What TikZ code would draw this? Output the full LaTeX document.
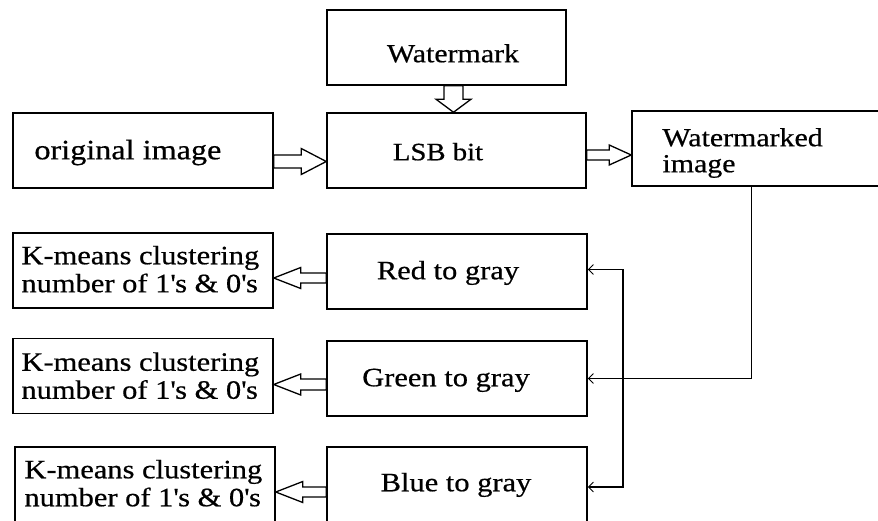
\documentclass[tikz,border=0pt]{standalone}
\usepackage{fontspec}
\setmainfont[FakeStretch=1.15,FakeBold=0.6]{Liberation Serif}
\usetikzlibrary{calc,arrows.meta}

% Hollow block arrow: #1 tail, #2 tip, #3 shaft half-width, #4 head half-width, #5 head length
\newcommand{\blockarrow}[5]{%
  \path ($(#2)!#5pt!(#1)$) coordinate (ba-base);
  \draw[blk] ($(#1)!#3pt!90:(#2)$) -- ($(ba-base)!#3pt!90:(#2)$)
    -- ($(ba-base)!#4pt!90:(#2)$) -- (#2)
    -- ($(ba-base)!#4pt!-90:(#2)$) -- ($(ba-base)!#3pt!-90:(#2)$)
    -- ($(#1)!#3pt!-90:(#2)$) -- cycle;}

\newcommand{\kmtext}{K-means clustering\\number of 1\textquotesingle s \& 0\textquotesingle s}

\tikzset{
  box/.style={draw, line width=1.5pt, inner sep=0pt, minimum height=75pt},
  txt/.style={inner sep=0pt, font=\fontsize{26.5}{28}\selectfont},
  blk/.style={draw, line width=1.3pt, fill=white, line join=miter},
  conn/.style={draw, line width=1.5pt,
    arrows={-Straight Barb[length=5pt,width=10pt,line width=0.9pt]}},
}

\begin{document}
\begin{tikzpicture}[x=1pt, y=-1pt]
\useasboundingbox (0,0) rectangle (878,521);

% boxes
\node[box, minimum width=239pt] (wm)  at (446.5,47.5)  {};
\node[box, minimum width=259pt] (lsb) at (456.5,150.5) {};
\node[box, minimum width=260pt] (orig) at (143,150.5) {};
\node[box, minimum width=268pt] (wmi) at (766,148.5) {};
\node[box, minimum width=260pt] (red)   at (457,271.5) {};
\node[box, minimum width=260pt] (green) at (457,378.5) {};
\node[box, minimum width=260pt] (blue)  at (457,484.5) {};
\node[box, minimum width=260pt] (km1) at (143,270.5) {};
\node[box, minimum width=260pt] (km2) at (143,376) {};
\node[box, minimum width=260pt] (km3) at (145,484.5) {};

% labels (multi-line labels are anchored at their last baseline)
\node[txt, font=\fontsize{26}{28}\selectfont, anchor=base] (wm-t) at ($(wm.north)+(6.5,53)$) {Watermark};
\node[txt, font=\fontsize{25}{28}\selectfont, anchor=base] (lsb-t) at ($(lsb.north)+(-18.5,48)$) {LSB bit};
\node[txt, font=\fontsize{28}{32}\selectfont, anchor=base west] (orig-t) at ($(orig.north west)+(22,47)$) {original image};
\node[txt, font=\fontsize{26}{26}\selectfont, anchor=base west, align=left] (wmi-t) at ($(wmi.north west)+(31,62)$) {Watermarked\\image};
\node[txt, anchor=base] (red-t) at ($(red.north)+(-9,46)$) {Red to gray};
\node[txt, anchor=base] (green-t) at ($(green.north)+(-11,46)$) {Green to gray};
\node[txt, anchor=base] (blue-t) at ($(blue.north)+(-1,45)$) {Blue to gray};
\node[txt, anchor=base west, align=left] (km1-t) at ($(km1.north west)+(9,60)$) {\kmtext};
\node[txt, anchor=base west, align=left] (km2-t) at ($(km2.north west)+(9,61)$) {\kmtext};
\node[txt, anchor=base west, align=left] (km3-t) at ($(km3.north west)+(10,60)$) {\kmtext};

% hollow block arrows
\coordinate (t1) at ($(wm.south)+(7,0)$);
\coordinate (h1) at (t1 |- lsb.north);
\blockarrow{t1}{h1}{9.5}{17.5}{13}
\coordinate (t2) at ($(orig.east)+(0,11)$);
\coordinate (h2) at (lsb.west |- t2);
\blockarrow{t2}{h2}{6.5}{13}{25}
\coordinate (t3) at ($(lsb.east)+(0,4.5)$);
\coordinate (h3) at (wmi.west |- t3);
\blockarrow{t3}{h3}{5}{10}{22}
\coordinate (t4) at ($(red.west)+(0,6.5)$);
\coordinate (h4) at (km1.east |- t4);
\blockarrow{t4}{h4}{5}{10.5}{27}
\coordinate (t5) at ($(green.west)+(0,6)$);
\coordinate (h5) at (km2.east |- t5);
\blockarrow{t5}{h5}{5.5}{10.5}{27}
\coordinate (t6) at ($(blue.west)+(0,7.5)$);
\coordinate (h6) at (km3.east |- t6);
\blockarrow{t6}{h6}{5}{10.5}{27}

% thin connectors
\draw[conn] ($(wmi.south west)+(120,0)$) |- (green.east);
\draw[conn, arrows={Straight Barb[length=5pt,width=10pt,line width=0.9pt]-Straight Barb[length=5pt,width=10pt,line width=0.9pt]}]
  ($(red.east)+(0,-2)$) -- ++(35,0) |- ($(blue.east)+(0,2.5)$);
\end{tikzpicture}
\end{document}
